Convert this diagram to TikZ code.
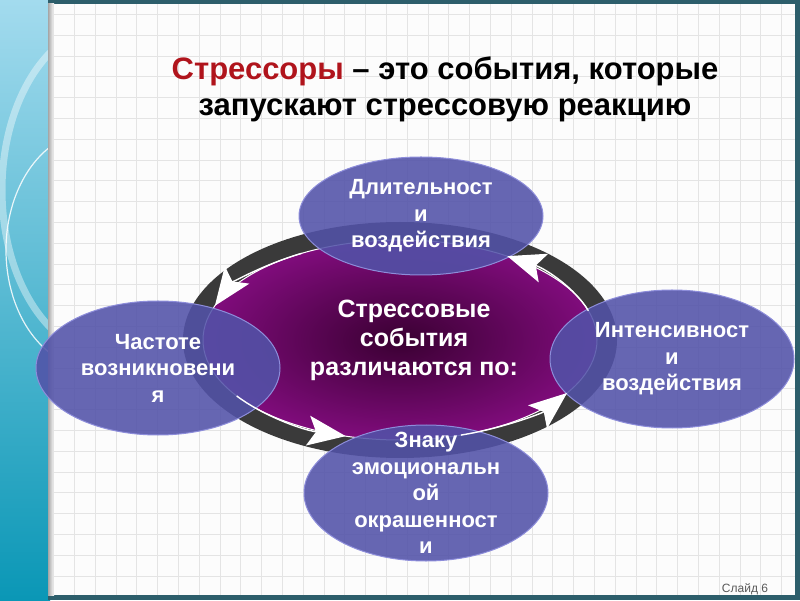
\documentclass[tikz,border=0pt]{standalone}
\usepackage{fontspec}
\setmainfont{Liberation Sans}
\usepackage{xcolor}
\usepackage{tikz}
\usetikzlibrary{arrows.meta,calc,shapes.geometric}
\definecolor{rahmen}{HTML}{2D5E6B}
\definecolor{streifenhell}{HTML}{A3DBEE}
\definecolor{streifenmitte}{HTML}{27AED3}
\definecolor{streifendunkel}{HTML}{0A97B6}
\definecolor{gitter}{HTML}{E4E4E4}
\definecolor{titelrot}{HTML}{B0141C}
\definecolor{ringgrau}{HTML}{3A3A3A}
\definecolor{kernlila}{HTML}{3A0032}
\definecolor{randlila}{HTML}{800C7C}
\definecolor{ovalblau}{HTML}{5252A8}
\definecolor{ovalrand}{HTML}{8D8DDA}
\newcommand{\Stressor}[5]{\node[oval,minimum height=#4,label={[ovaltext]center:#5}] (#1) at (#2,#3) {};}

\begin{document}
\begin{tikzpicture}[>=Stealth,x=1pt,y=1pt,
  oval/.style={ellipse,minimum width=244pt,fill=ovalblau,fill opacity=.88,draw=ovalrand,line width=1pt},
  ovaltext/.style={text=white,font=\fontsize{22}{26.5}\selectfont\bfseries,align=center},
  pfeil/.style={white,line width=1.4pt,-{Stealth[length=38pt,width=30pt,inset=8pt]}}]
  \useasboundingbox (0,0) rectangle (800,600);
  % linker Streifen mit Boegen
  \shade[top color=streifenhell,middle color=streifenmitte,bottom color=streifendunkel] (0,0) rectangle (50,600);
  \begin{scope}
    \clip (0,0) rectangle (49,600);
    \draw[white,opacity=.4,line width=7pt] (110,410) ellipse [x radius=108, y radius=165];
    \draw[white,opacity=.85,line width=1.2pt] (92,350) ellipse [x radius=86, y radius=118];
  \end{scope}
  % Rahmen und Blatt
  \fill[rahmen] (48,0) rectangle (800,600);
  \fill[white!98!gray] (48,5) rectangle (795,596);
  \shade[left color=black!35,right color=white!98!gray] (48,5) rectangle (54,596);
  \foreach \gx in {0,...,35}
    \draw[gitter] (53.3+\gx*20.8,5) -- ++(0,591);
  \foreach \gy in {1,...,28}
    \draw[gitter] (54,3.4+\gy*20.8) -- ++(741,0);
  % Ueberschrift
  \node[font=\fontsize{31}{36}\selectfont\bfseries,align=center] (titel) at (445,511)
    {\textcolor{titelrot}{Стрессоры} – это события, которые\\запускают стрессовую реакцию};
  % Ring mit Kern
  \node[ellipse,minimum width=434pt,minimum height=236pt,fill=ringgrau] (ring) at (400,260) {};
  \node[ellipse,minimum width=394pt,minimum height=200pt,inner color=kernlila,outer color=randlila,
    draw=white,line width=1pt] (kern) at (400,260) {};
  \node[text=white,align=center,font=\fontsize{25}{29}\selectfont\bfseries] (kerntext)
    at ([xshift=14pt]kern.center) {Стрессовые\\события\\различаются по:};
  % Ovale
  \Stressor{dauer}{421}{384}{118pt}{Длительност\\и\\воздействия}
  \Stressor{haeufig}{158}{232}{134pt}{Частоте\\возникновени\\я}
  \Stressor{intens}{672}{241}{138pt}{Интенсивност\\и\\воздействия}
  \Stressor{zeichen}{426}{107}{136pt}{Знаку\\эмоциональн\\ой\\окрашенност\\и}
  % Pfeile am Kernrand
  \foreach \w [evaluate=\w as \s using \w-40] in {57,160,254,328}
    \draw[pfeil] ($(kern.center)+(\s:197 and 100)$) arc[start angle=\s,end angle=\w,x radius=197,y radius=100];
  \node[font=\fontsize{12}{14}\selectfont,text=black!65] (nummer) at (745,11) {Слайд 6};
\end{tikzpicture}
\end{document}
